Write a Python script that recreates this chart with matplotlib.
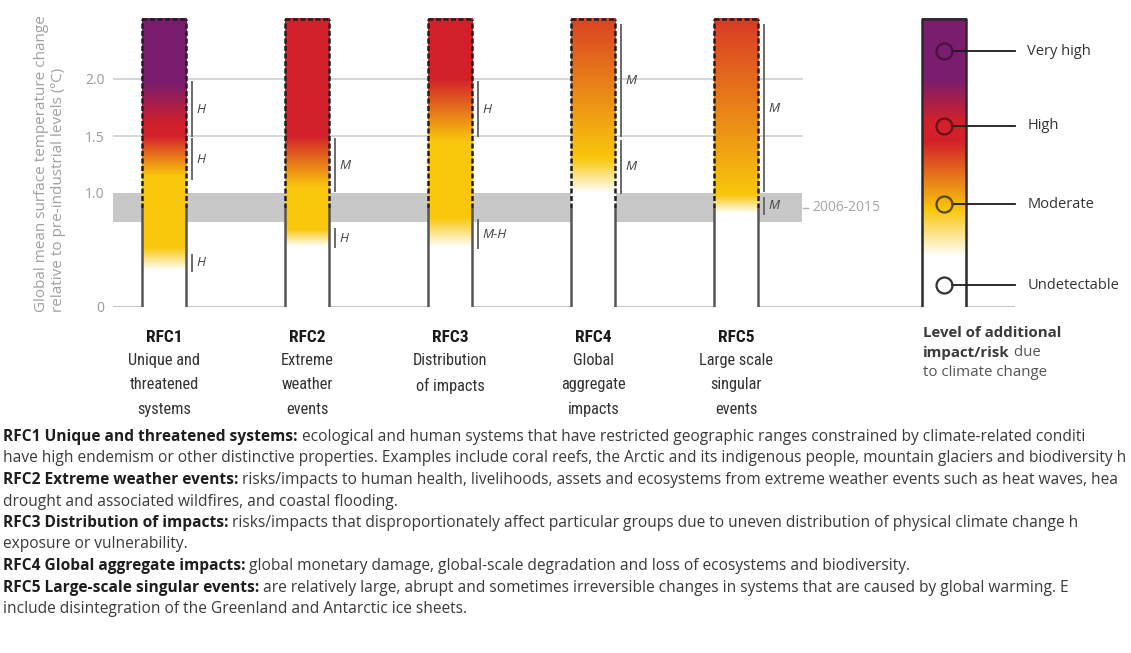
import matplotlib
matplotlib.use('Agg')
import matplotlib.pyplot as plt
import numpy as np
from matplotlib.colors import LinearSegmentedColormap
from matplotlib import font_manager

W, H = 1131, 653

rfc_codes = ['RFC1', 'RFC2', 'RFC3', 'RFC4', 'RFC5']
rfc_names = ['Unique and\nthreatened\nsystems', 'Extreme\nweather\nevents',
             'Distribution\nof impacts', 'Global\naggregate\nimpacts',
             'Large scale\nsingular\nevents']

# (temperature, risk level) transitions; 0 undetectable, 1 moderate, 2 high, 3 very high
ember_stops = [
    [(0.32, 0), (0.52, 1), (1.15, 1), (1.5, 2), (1.6, 2), (1.97, 3)],
    [(0.53, 0), (0.68, 1), (1.05, 1), (1.5, 2)],
    [(0.52, 0), (0.78, 1), (1.45, 1), (2.0, 2)],
    [(1.0, 0), (1.3, 1), (2.53, 1.8)],
    [(0.82, 0), (0.98, 1), (2.53, 1.85)],
]

# confidence segments: (from, to, level)
confidence = [
    [(1.5, 1.97, 'H'), (1.12, 1.47, 'H'), (0.32, 0.46, 'H')],
    [(1.02, 1.47, 'M'), (0.53, 0.68, 'H')],
    [(1.5, 1.97, 'H'), (0.52, 0.76, 'M-H')],
    [(1.5, 2.47, 'M'), (1.0, 1.46, 'M')],
    [(1.02, 2.47, 'M'), (0.82, 0.96, 'M')],
]

yticks = [0, 1.0, 1.5, 2.0]
ytick_labels = ['0', '1.0', '1.5', '2.0']
gridlines = [1.5, 2.0]
band = (0.75, 1.0)
band_label = '2006-2015'
present = 0.87
ember_top = 2.53

legend_labels = ['Undetectable', 'Moderate', 'High', 'Very high']
legend_levels = [0, 1, 2, 3]
legend_pos = [0.19, 0.90, 1.59, 2.245]
legend_stops = [(0.44, 0), (0.85, 1), (1.45, 2), (1.62, 2), (2.0, 3)]
legend_edge = ['#333333', '#5a4800', '#6a1018', '#4a1042']

# the source image is cropped at its right edge, text kept as far as it shows
desc_bold = ['RFC1 Unique and threatened systems:', '',
             'RFC2 Extreme weather events:', '',
             'RFC3 Distribution of impacts:', '',
             'RFC4 Global aggregate impacts:',
             'RFC5 Large-scale singular events:', '']
desc_text = [
    ' ecological and human systems that have restricted geographic ranges constrained by climate-related conditi',
    'have high endemism or other distinctive properties. Examples include coral reefs, the Arctic and its indigenous people, mountain glaciers and biodiversity h',
    ' risks/impacts to human health, livelihoods, assets and ecosystems from extreme weather events such as heat waves, hea',
    'drought and associated wildfires, and coastal flooding.',
    ' risks/impacts that disproportionately affect particular groups due to uneven distribution of physical climate change h',
    'exposure or vulnerability.',
    ' global monetary damage, global-scale degradation and loss of ecosystems and biodiversity.',
    ' are relatively large, abrupt and sometimes irreversible changes in systems that are caused by global warming. E',
    'include disintegration of the Greenland and Antarctic ice sheets.',
]

risk_cmap = LinearSegmentedColormap.from_list(
    'risk', [(0, '#ffffff'), (1 / 3, '#f9c70c'), (2 / 3, '#d3212a'), (1, '#7a1d6e')])


def pick_narrow():
    fl = font_manager.fontManager.ttflist
    names = {f.name for f in fl}
    for n in ['Liberation Sans Narrow', 'Roboto Condensed', 'Open Sans Condensed',
              'Noto Sans Condensed', 'Arial Narrow']:
        if n in names:
            return {'family': [n, 'DejaVu Sans']}, 11.8
    if any(f.name == 'DejaVu Sans' and 'condensed' in str(f.stretch) for f in fl):
        return {'family': 'DejaVu Sans', 'fontstretch': 'condensed'}, 11
    return {'family': ['Liberation Sans', 'DejaVu Sans']}, 11


narrow, narrow_size = pick_narrow()
body = ['Open Sans', 'DejaVu Sans']

fig = plt.figure(figsize=(W / 100, H / 100), dpi=100)
x0, x1 = -0.356, 5.947
ax = fig.add_axes([113 / W, (H - 307) / H, (1015 - 113) / W, 2.6 * 114 / H])
ax.set_xlim(x0, x1)
ax.set_ylim(0, 2.6)
for s in ax.spines.values():
    s.set_visible(False)
ax.set_xticks([])
ax.set_yticks(yticks)
ax.set_yticklabels(ytick_labels, color='#9a9a9a', fontsize=10, family=body)
ax.tick_params(axis='y', length=0, pad=6)

hw = 0.154
grid_end = 4.459

ax.axhspan(band[0], band[1], xmin=0, xmax=(grid_end - x0) / (x1 - x0),
           color='#c8c8c8', lw=0, zorder=1)
for g in gridlines:
    ax.plot([x0, grid_end], [g, g], color='#d2d2d2', lw=1.3, zorder=1)
ax.plot([x0, x1], [0, 0], color='#c4c4c4', lw=1.5, zorder=1)
ax.plot([grid_end + 0.008, grid_end + 0.045], [0.87, 0.87], color='#b0b0b0', lw=1, zorder=1)
ax.text(grid_end + 0.07, 0.87, band_label, color='#a5a5a5', fontsize=10,
        family=body, va='center', ha='left')

t = np.linspace(0, ember_top, 600)


def column(stops):
    temps = [s[0] for s in stops]
    levs = [s[1] for s in stops]
    lev = np.interp(t, temps, levs)
    return risk_cmap(lev / 3.0)[:, None, :]


for i, code in enumerate(rfc_codes):
    ax.imshow(column(ember_stops[i]), origin='lower', aspect='auto',
              extent=[i - hw, i + hw, 0, ember_top], zorder=2, interpolation='bilinear')
    for xe in (i - hw, i + hw):
        ax.plot([xe, xe], [0, present], color='#555555', lw=1.8, zorder=3,
                solid_capstyle='butt')
        ax.plot([xe, xe], [present, ember_top], color='#1e1e1e', lw=1.8,
                ls=(0, (2, 1)), zorder=3)
    ax.plot([i - hw, i + hw], [ember_top, ember_top], color='#1e1e1e', lw=1.8,
            ls=(0, (2, 1)), zorder=3)

    xc = i + hw + 0.042
    for lo, hi, lab in confidence[i]:
        ax.plot([xc, xc], [lo, hi], color='#6a6a6a', lw=1.4, zorder=3)
        ax.text(xc + 0.03, (lo + hi) / 2, lab, fontsize=9.5, style='italic',
                color='#444444', family=body, va='center', ha='left')

    ax.text(i, -0.265, code, ha='center', va='center', fontsize=narrow_size + 0.7,
            fontweight='bold', color='#1a1a1a', clip_on=False, **narrow)
    ax.text(i, -0.40, rfc_names[i], ha='center', va='top', fontsize=narrow_size,
            color='#333333', linespacing=1.72 * 12.5 / narrow_size, clip_on=False, **narrow)

# legend ember
lx = 5.454
lcol = risk_cmap(np.interp(t, [s[0] for s in legend_stops],
                           [s[1] for s in legend_stops]) / 3.0)[:, None, :]
ax.imshow(lcol, origin='lower', aspect='auto', extent=[lx - hw, lx + hw, 0, ember_top],
          zorder=2, interpolation='bilinear')
ax.plot([lx - hw, lx - hw, lx + hw, lx + hw], [0, ember_top, ember_top, 0],
        color='#2a2a2a', lw=1.8, zorder=3)
for lab, lev, yp, ec in zip(legend_labels, legend_levels, legend_pos, legend_edge):
    ax.plot([lx + 0.055, x1], [yp, yp], color='#1a1a1a', lw=1.3, zorder=3, clip_on=False)
    ax.plot([lx], [yp], marker='o', ms=11.5, mfc='none', mec=ec, mew=1.6, zorder=4)
    ax.text(x1 + 0.085, yp, lab, fontsize=10.5, family=body, color='#333333',
            va='center', ha='left', clip_on=False)
ax.set_xlim(x0, x1)
ax.set_ylim(0, 2.6)

fig.text(923 / W, 1 - 333 / H, 'Level of additional', fontsize=10.8, fontweight='bold',
         family=body, color='#3a3a3a', va='center', ha='left')
tb = fig.text(923 / W, 1 - 353 / H, 'impact/risk', fontsize=10.8, fontweight='bold',
              family=body, color='#3a3a3a', va='center', ha='left')
fig.text(923 / W, 1 - 372 / H, 'to climate change', fontsize=10.8,
         family=body, color='#555555', va='center', ha='left')

# y axis title
fig.text(50 / W, 1 - 312 / H,
         'Global mean surface temperature change\nrelative to pre-industrial levels (ºC)',
         rotation=90, fontsize=11, family=body, color='#a0a0a0', ha='center',
         va='bottom', multialignment='left', linespacing=1.1)

renderer = fig.canvas.get_renderer()
bb = tb.get_window_extent(renderer)
fig.text(bb.x1 / W, 1 - 353 / H, ' due', fontsize=10.8, family=body, color='#555555',
         va='center', ha='left')

# descriptions
ys = [437, 458.5, 480, 501.5, 523, 544.5, 566, 587.5, 609]
for bold, txt, yp in zip(desc_bold, desc_text, ys):
    xp = 3
    if bold:
        b = fig.text(xp / W, 1 - yp / H, bold, fontsize=11.2, fontweight='bold',
                     family=body, color='#1e1e1e', va='center', ha='left')
        xp = b.get_window_extent(renderer).x1
    fig.text(xp / W, 1 - yp / H, txt, fontsize=11.2, family=body, color='#3a3a3a',
             va='center', ha='left')

fig.savefig('out.png', dpi=100)
